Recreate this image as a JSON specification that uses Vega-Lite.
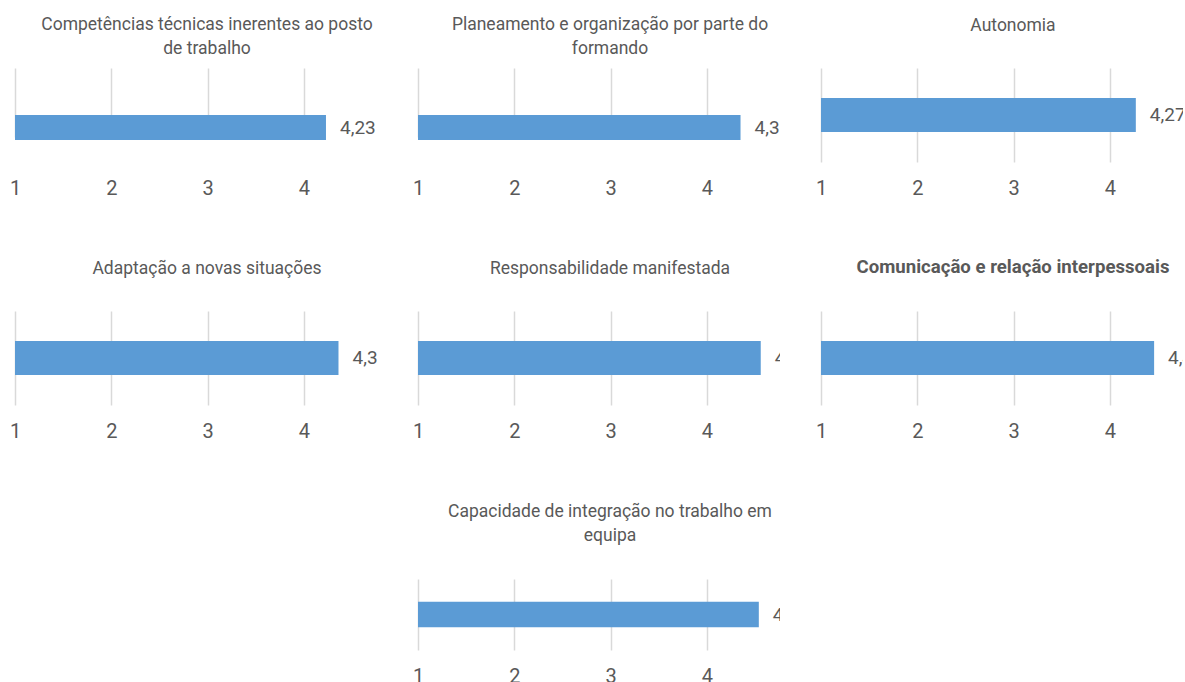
{
  "$schema": "https://vega.github.io/schema/vega-lite/v6.json",
  "padding": {"left": 9, "top": 15, "right": 0, "bottom": 0},
  "data": {"values": [
    {"criterio": "Competências técnicas inerentes ao posto de trabalho", "media": 4.23},
    {"criterio": "Planeamento e organização por parte do formando", "media": 4.35},
    {"criterio": "Autonomia", "media": 4.27},
    {"criterio": "Adaptação a novas situações", "media": 4.36},
    {"criterio": "Responsabilidade manifestada", "media": 4.56},
    {"criterio": "Comunicação e relação interpessoais", "media": 4.46},
    {"criterio": "Capacidade de integração no trabalho em equipa", "media": 4.54}
  ]},
  "spacing": 61,
  "center": true,
  "vconcat": [
    {
      "spacing": 60,
      "vconcat": [
        {
          "spacing": 35,
          "hconcat": [
            {
              "width": 362, "height": 94,
              "title": {"text": ["Competências técnicas inerentes ao posto", "de trabalho"], "offset": 11},
              "transform": [{"filter": "datum.criterio === 'Competências técnicas inerentes ao posto de trabalho'"}],
              "encoding": {
                "x": {"field": "media", "type": "quantitative", "scale": {"domain": [1, 4.76], "nice": false, "zero": false}, "axis": {"values": [1, 2, 3, 4], "title": null}},
                "y": {"field": "criterio", "type": "nominal", "axis": null, "scale": {"padding": 0.47, "range": [25, 94]}}
              },
              "layer": [
                {"mark": {"type": "bar", "color": "#5B9BD5"}, "encoding": {"x2": {"datum": 1}}},
                {"mark": {"type": "text", "align": "left", "dx": 14, "clip": true, "fontSize": 19, "color": "#595959", "font": "Roboto"}, "encoding": {"text": {"field": "media", "type": "quantitative", "format": ".2f"}}}
              ]
            },
            {
              "width": 362, "height": 94,
              "title": {"text": ["Planeamento e organização por parte do", "formando"], "offset": 11},
              "transform": [{"filter": "datum.criterio === 'Planeamento e organização por parte do formando'"}],
              "encoding": {
                "x": {"field": "media", "type": "quantitative", "scale": {"domain": [1, 4.76], "nice": false, "zero": false}, "axis": {"values": [1, 2, 3, 4], "title": null}},
                "y": {"field": "criterio", "type": "nominal", "axis": null, "scale": {"padding": 0.47, "range": [25, 94]}}
              },
              "layer": [
                {"mark": {"type": "bar", "color": "#5B9BD5"}, "encoding": {"x2": {"datum": 1}}},
                {"mark": {"type": "text", "align": "left", "dx": 14, "clip": true, "fontSize": 19, "color": "#595959", "font": "Roboto"}, "encoding": {"text": {"field": "media", "type": "quantitative", "format": ".2f"}}}
              ]
            },
            {
              "width": 362, "height": 94,
              "title": {"text": "Autonomia", "offset": 34},
              "transform": [{"filter": "datum.criterio === 'Autonomia'"}],
              "encoding": {
                "x": {"field": "media", "type": "quantitative", "scale": {"domain": [1, 4.76], "nice": false, "zero": false}, "axis": {"values": [1, 2, 3, 4], "title": null}},
                "y": {"field": "criterio", "type": "nominal", "axis": null, "scale": {"padding": 0.47}}
              },
              "layer": [
                {"mark": {"type": "bar", "color": "#5B9BD5"}, "encoding": {"x2": {"datum": 1}}},
                {"mark": {"type": "text", "align": "left", "dx": 14, "clip": true, "fontSize": 19, "color": "#595959", "font": "Roboto"}, "encoding": {"text": {"field": "media", "type": "quantitative", "format": ".2f"}}}
              ]
            }
          ]
        },
        {
          "spacing": 35,
          "hconcat": [
            {
              "width": 362, "height": 94,
              "title": {"text": "Adaptação a novas situações", "offset": 34},
              "transform": [{"filter": "datum.criterio === 'Adaptação a novas situações'"}],
              "encoding": {
                "x": {"field": "media", "type": "quantitative", "scale": {"domain": [1, 4.76], "nice": false, "zero": false}, "axis": {"values": [1, 2, 3, 4], "title": null}},
                "y": {"field": "criterio", "type": "nominal", "axis": null, "scale": {"padding": 0.47}}
              },
              "layer": [
                {"mark": {"type": "bar", "color": "#5B9BD5"}, "encoding": {"x2": {"datum": 1}}},
                {"mark": {"type": "text", "align": "left", "dx": 14, "clip": true, "fontSize": 19, "color": "#595959", "font": "Roboto"}, "encoding": {"text": {"field": "media", "type": "quantitative", "format": ".2f"}}}
              ]
            },
            {
              "width": 362, "height": 94,
              "title": {"text": "Responsabilidade manifestada", "offset": 34},
              "transform": [{"filter": "datum.criterio === 'Responsabilidade manifestada'"}],
              "encoding": {
                "x": {"field": "media", "type": "quantitative", "scale": {"domain": [1, 4.76], "nice": false, "zero": false}, "axis": {"values": [1, 2, 3, 4], "title": null}},
                "y": {"field": "criterio", "type": "nominal", "axis": null, "scale": {"padding": 0.47}}
              },
              "layer": [
                {"mark": {"type": "bar", "color": "#5B9BD5"}, "encoding": {"x2": {"datum": 1}}},
                {"mark": {"type": "text", "align": "left", "dx": 14, "clip": true, "fontSize": 19, "color": "#595959", "font": "Roboto"}, "encoding": {"text": {"field": "media", "type": "quantitative", "format": ".2f"}}}
              ]
            },
            {
              "width": 362, "height": 94,
              "title": {"text": "Comunicação e relação interpessoais", "offset": 34, "fontWeight": "bold", "fontSize": 18.6},
              "transform": [{"filter": "datum.criterio === 'Comunicação e relação interpessoais'"}],
              "encoding": {
                "x": {"field": "media", "type": "quantitative", "scale": {"domain": [1, 4.76], "nice": false, "zero": false}, "axis": {"values": [1, 2, 3, 4], "title": null}},
                "y": {"field": "criterio", "type": "nominal", "axis": null, "scale": {"padding": 0.47}}
              },
              "layer": [
                {"mark": {"type": "bar", "color": "#5B9BD5"}, "encoding": {"x2": {"datum": 1}}},
                {"mark": {"type": "text", "align": "left", "dx": 14, "clip": true, "fontSize": 19, "color": "#595959", "font": "Roboto"}, "encoding": {"text": {"field": "media", "type": "quantitative", "format": ".2f"}}}
              ]
            }
          ]
        }
      ]
    },
    {
      "width": 362, "height": 71,
      "title": {"text": ["Capacidade de integração no trabalho em", "equipa"], "offset": 35},
      "transform": [{"filter": "datum.criterio === 'Capacidade de integração no trabalho em equipa'"}],
      "encoding": {
        "x": {"field": "media", "type": "quantitative", "scale": {"domain": [1, 4.76], "nice": false, "zero": false}, "axis": {"values": [1, 2, 3, 4], "title": null}},
        "y": {"field": "criterio", "type": "nominal", "axis": null, "scale": {"padding": 0.47}}
      },
      "layer": [
        {"mark": {"type": "bar", "color": "#5B9BD5"}, "encoding": {"x2": {"datum": 1}}},
        {"mark": {"type": "text", "align": "left", "dx": 14, "clip": true, "fontSize": 19, "color": "#595959", "font": "Roboto"}, "encoding": {"text": {"field": "media", "type": "quantitative", "format": ".2f"}}}
      ]
    }
  ],
  "config": {
    "view": {"stroke": null},
    "font": "Roboto",
    "title": {"font": "Roboto", "fontSize": 17.5, "fontWeight": "normal", "color": "#595959", "anchor": "middle", "dx": 11, "lineHeight": 24},
    "axisX": {"domain": false, "ticks": false, "grid": true, "gridColor": "#D9D9D9", "gridWidth": 1.5, "labelFont": "Roboto", "labelFontSize": 20, "labelColor": "#595959", "labelPadding": 16, "labelFlush": false, "labelOverlap": false},
    "locale": {"number": {"decimal": ",", "thousands": ".", "grouping": [3], "currency": ["", " €"]}}
  }
}
